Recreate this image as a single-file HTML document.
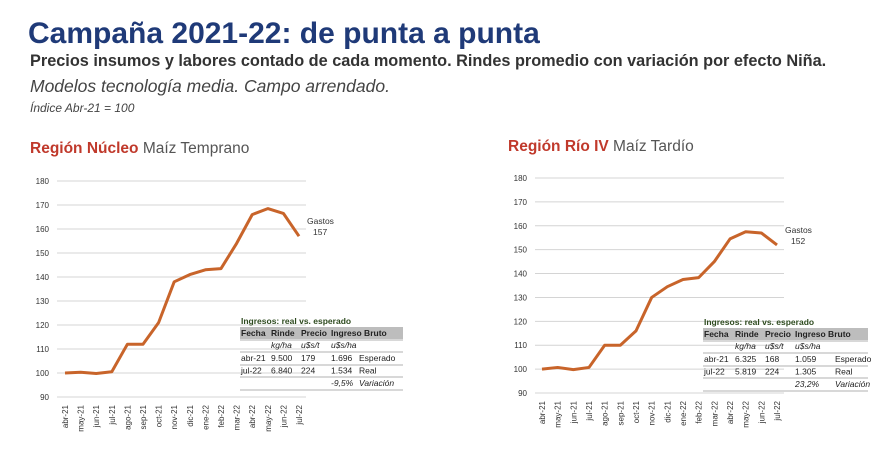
<!DOCTYPE html>
<html><head><meta charset="utf-8"><style>
body{margin:0;width:879px;height:476px;background:#fff;overflow:hidden;font-family:"Liberation Sans",sans-serif;position:relative}
.t{position:absolute;white-space:nowrap}
</style></head><body>
<div class="t" style="left:28px;top:17px;font-size:30px;font-weight:bold;color:#1f3a78">Campaña 2021-22: de punta a punta</div>
<div class="t" style="left:30px;top:52px;font-size:16.3px;font-weight:bold;color:#333">Precios insumos y labores contado de cada momento. Rindes promedio con variación por efecto Niña.</div>
<div class="t" style="left:30px;top:76px;font-size:17.5px;font-style:italic;color:#444">Modelos tecnología media. Campo arrendado.</div>
<div class="t" style="left:30px;top:101px;font-size:12px;font-style:italic;color:#444">Índice Abr-21 = 100</div>
<div class="t" style="left:30px;top:140px;font-size:15.5px;color:#555"><b style="color:#c0392b">Región Núcleo</b> Maíz Temprano</div>
<div class="t" style="left:508px;top:138px;font-size:15.5px;color:#555"><b style="color:#c0392b">Región Río IV</b> Maíz Tardío</div>
<svg id="svg" width="879" height="476" style="position:absolute;left:0;top:0"></svg>
<script>
const months=["abr-21","may-21","jun-21","jul-21","ago-21","sep-21","oct-21","nov-21","dic-21","ene-22","feb-22","mar-22","abr-22","may-22","jun-22","jul-22"];
const yTicks=[90,100,110,120,130,140,150,160,170,180];
const nucleoValues=[100,100.3,99.8,100.5,112,112,121,138,141,143,143.5,154,166,168.5,166.5,157];
const rioValues=[100,100.7,99.8,100.7,110,110,116,130,134.5,137.5,138.3,145,154.5,157.5,157,152];
const nucleoTable=[["abr-21","9.500","179","1.696","Esperado"],["jul-22","6.840","224","1.534","Real"]];
const rioTable=[["abr-21","6.325","168","1.059","Esperado"],["jul-22","5.819","224","1.305","Real"]];
const nucleoVar="-9,5%", rioVar="23,2%";
const NS="http://www.w3.org/2000/svg";
const svg=document.getElementById('svg');
function mk(tag,attrs,parent,text){const e=document.createElementNS(NS,tag);for(const k in attrs)e.setAttribute(k,attrs[k]);if(text!==undefined)e.textContent=text;(parent||svg).appendChild(e);return e;}
function chart(cfg,values,table,variation,prefix){
  const y=v=>cfg.y0+(v-90)/90*(cfg.y1-cfg.y0);
  const x=i=>cfg.x0+i*(cfg.x1-cfg.x0)/(months.length-1);
  const g=mk('g',{});
  
  
  yTicks.forEach(t=>{
    const l=mk('line',{x1:cfg.gx0,x2:cfg.gx1,y1:y(t),y2:y(t),stroke:'#d4d4d4','stroke-width':1},g);
    
    
    const tx=mk('text',{x:cfg.gx0-8,y:y(t)+3,'font-size':8,'text-anchor':'end',fill:'#333'},g,t);
    
    
  });
  months.forEach((m,i)=>{
    const tx=mk('text',{transform:`translate(${x(i)+3},${y(90)+8}) rotate(-90)`,'font-size':8,'text-anchor':'end',fill:'#333'},g,m);
    
    
  });
  const p=mk('polyline',{points:values.map((v,i)=>x(i)+','+y(v)).join(' '),fill:'none',stroke:'#c8642a','stroke-width':3,'stroke-linejoin':'round'},g);
  
  
  const last=values[values.length-1];
  const lb=mk('text',{x:x(15)+8,y:y(last)-12,'font-size':8.5,fill:'#333'},g,'Gastos');
  
  
  const lv=mk('text',{x:x(15)+14,y:y(last)-1,'font-size':8.5,fill:'#333'},g,Math.round(last));
  
  
  const tx0=cfg.tx, ty=cfg.ty, w=cfg.tw, c=cfg.cols;
  const tg=mk('g',{'font-size':8.5,fill:'#222'},g);
  
  
  mk('text',{x:tx0+1,y:ty,'font-weight':'bold',fill:'#2d4a1e','font-size':8.5},tg,'Ingresos: real vs. esperado');
  mk('rect',{x:tx0,y:ty+3,width:w,height:12,fill:'#bdbdbd'},tg);
  ['Fecha','Rinde','Precio','Ingreso Bruto'].forEach((h,i)=>mk('text',{x:tx0+c[i],y:ty+12,'font-weight':'bold'},tg,h));
  ['kg/ha','u$s/t','u$s/ha'].forEach((h,i)=>mk('text',{x:tx0+c[i+1],y:ty+24,'font-style':'italic'},tg,h));
  [16,28,41,53,66].forEach(d=>mk('line',{x1:tx0,x2:tx0+w,y1:ty+d,y2:ty+d,stroke:'#999','stroke-width':0.8},tg));
  table.forEach((r,j)=>r.forEach((v,i)=>mk('text',{x:tx0+c[i],y:ty+37+j*12.5},tg,v)));
  mk('text',{x:tx0+c[3],y:ty+62,'font-style':'italic'},tg,variation);
  mk('text',{x:tx0+c[4],y:ty+62,'font-style':'italic'},tg,'Variación');
}
chart({x0:65,x1:299,y0:397,y1:181,gx0:57,gx1:306,tx:240,ty:324,tw:163,cols:[1,31,61,91,119]},nucleoValues,nucleoTable,nucleoVar,'nucleo');
chart({x0:542,x1:777,y0:393,y1:178,gx0:535,gx1:784,tx:703,ty:325,tw:165,cols:[1,32,62,92,132]},rioValues,rioTable,rioVar,'rio-iv');
</script>
</body></html>
